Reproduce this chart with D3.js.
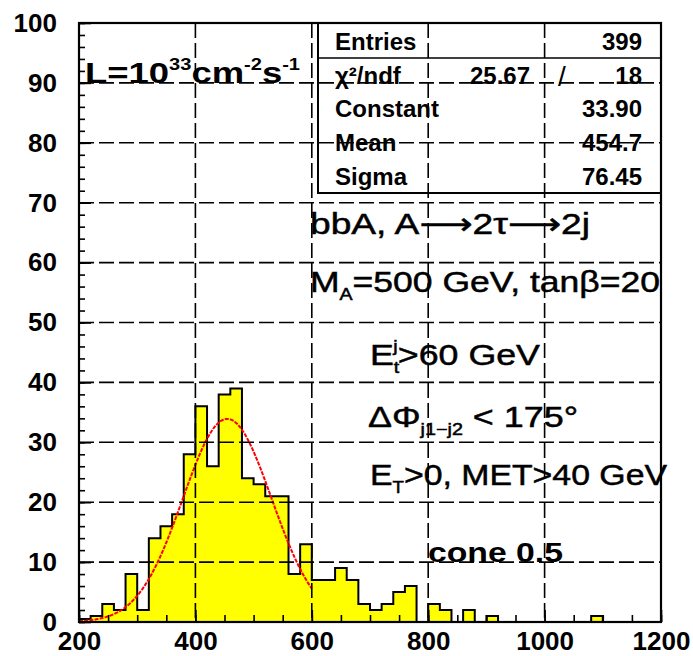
<!DOCTYPE html>
<html>
<head>
<meta charset="utf-8">
<title>bbA, A to 2tau to 2j - mass histogram</title>
<script src="https://cdnjs.cloudflare.com/ajax/libs/d3/7.8.5/d3.min.js"></script>
<style>
  html, body { margin: 0; background: #fff; }
  svg text { font-family: 'Liberation Sans', Arial, Helvetica, sans-serif; fill: #000; }
  .arrow { font-family: 'DejaVu Sans', sans-serif; }
</style>
</head>
<body>
<svg id="chart" width="693" height="656"></svg>
<script>
// histogram: 20 GeV bins from 200 to 1200
var binLow = 200, binWidth = 20;
var counts = [0.5, 1, 3, 2, 8, 2, 14, 16, 18, 28,
              36, 26, 38, 39, 24, 23, 21, 21, 8, 13,
              7, 7, 9, 7, 3, 2, 3, 5, 6, 0,
              3, 2, 0, 2, 0, 1, 0, 0, 0, 0,
              0, 0, 0, 0, 1, 0, 0, 0, 0, 0];

// gaussian fit, as given in the stats box (range 200 - 600)
var fitParams = {constant: 33.90, mean: 454.7, sigma: 76.45};
var fitRange = [200, 600];

var xTicks = [200, 400, 600, 800, 1000, 1200];
var yTicks = [0, 10, 20, 30, 40, 50, 60, 70, 80, 90, 100];
var xGrid = [400, 600, 800, 1000];
var yGrid = [10, 20, 30, 40, 50, 60, 70, 80, 90];

var statsRows = [["Entries", "", "399"],
                 ["\u03C7\u00B2/ndf", "25.67", "/", "18"],
                 ["Constant", "", "33.90"],
                 ["Mean", "", "454.7"],
                 ["Sigma", "", "76.45"]];

var FRAME = {left: 79, right: 661, top: 23, bottom: 622};

var svg = d3.select("#chart");
var x = d3.scaleLinear().domain([200, 1200]).range([FRAME.left, FRAME.right]);
var y = d3.scaleLinear().domain([0, 100]).range([FRAME.bottom, FRAME.top]);

svg.append("rect").attr("width", 693).attr("height", 656).attr("fill", "#fff");

// histogram outline
var pts = [[binLow, 0]];
counts.forEach(function (c, i) {
  var lo = binLow + i * binWidth;
  pts.push([lo, c]);
  pts.push([lo + binWidth, c]);
});
pts.push([binLow + counts.length * binWidth, 0]);

svg.append("path")
  .attr("d", d3.line().x(function (d) { return x(d[0]); }).y(function (d) { return y(d[1]); })(pts))
  .attr("fill", "#ffff00")
  .attr("stroke", "#000")
  .attr("stroke-width", 2)
  .attr("stroke-linejoin", "miter");

// fit curve
var fx = d3.range(fitRange[0], fitRange[1] + 0.1, 2);
var gauss = function (v) {
  var t = (v - fitParams.mean) / fitParams.sigma;
  return fitParams.constant * Math.exp(-0.5 * t * t);
};
svg.append("path")
  .attr("d", d3.line().x(function (d) { return x(d); }).y(function (d) { return y(gauss(d)); })(fx))
  .attr("fill", "none")
  .attr("stroke", "#ff0000")
  .attr("stroke-width", 2)
  .attr("stroke-dasharray", "4,1.2");

// dashed grid
var grid = svg.append("g").attr("stroke", "#000").attr("stroke-width", 1.6).attr("stroke-dasharray", "15,5");
grid.selectAll("line.gx").data(xGrid).enter().append("line")
  .attr("x1", function (d) { return x(d); }).attr("x2", function (d) { return x(d); })
  .attr("y1", FRAME.top).attr("y2", FRAME.bottom);
grid.selectAll("line.gy").data(yGrid).enter().append("line")
  .attr("y1", function (d) { return y(d); }).attr("y2", function (d) { return y(d); })
  .attr("x1", FRAME.left).attr("x2", FRAME.right);

// axes, ticks pointing inward
function styleAxis(g) {
  g.select(".domain").remove();
  g.selectAll(".tick line").attr("stroke", "#000").attr("stroke-width", 1.6);
  g.selectAll("text").attr("font-size", 26).attr("font-weight", "bold");
}
svg.append("g").attr("transform", "translate(" + FRAME.left + ",0)")
  .call(d3.axisLeft(y).tickValues(d3.range(0, 101, 2)).tickSize(-6).tickFormat(""))
  .call(styleAxis);
svg.append("g").attr("transform", "translate(" + FRAME.left + ",0)")
  .call(d3.axisLeft(y).tickValues(yTicks).tickSize(-12).tickPadding(22).tickFormat(d3.format("d")))
  .call(styleAxis);
svg.append("g").attr("transform", "translate(0," + FRAME.bottom + ")")
  .call(d3.axisBottom(x).tickValues(d3.range(200, 1201, 50)).tickSize(-7).tickFormat(""))
  .call(styleAxis);
svg.append("g").attr("transform", "translate(0," + FRAME.bottom + ")")
  .call(d3.axisBottom(x).tickValues(xTicks).tickSize(-12).tickPadding(10).tickFormat(d3.format("d")))
  .call(styleAxis);

svg.append("rect")
  .attr("x", FRAME.left).attr("y", FRAME.top)
  .attr("width", FRAME.right - FRAME.left).attr("height", FRAME.bottom - FRAME.top)
  .attr("fill", "none").attr("stroke", "#000").attr("stroke-width", 2.2);

// stats box
var box = svg.append("g");
box.append("rect").attr("x", 318).attr("y", FRAME.top).attr("width", FRAME.right - 318).attr("height", 170)
  .attr("fill", "none").attr("stroke", "#000").attr("stroke-width", 2);
box.append("line").attr("x1", 318).attr("x2", FRAME.right).attr("y1", 58).attr("y2", 58)
  .attr("stroke", "#000").attr("stroke-width", 1.6);
var rowY = [50, 84, 117, 151, 185];
statsRows.forEach(function (r, i) {
  var st = box.append("g").attr("font-size", 24).attr("font-weight", "bold");
  st.append("text").attr("x", 335).attr("y", rowY[i]).text(r[0]);
  if (r.length === 4) {
    st.append("text").attr("x", 530).attr("y", rowY[i]).attr("text-anchor", "end").text(r[1]);
    st.append("text").attr("x", 558).attr("y", rowY[i] + 2).attr("font-size", 28).attr("font-weight", "normal").text(r[2]);
    st.append("text").attr("x", 642).attr("y", rowY[i]).attr("text-anchor", "end").text(r[3]);
  } else {
    st.append("text").attr("x", 642).attr("y", rowY[i]).attr("text-anchor", "end").text(r[2]);
  }
});

// text with sub/superscripts: parts = [text, shift, dx, class] shift: 0 normal, 1 sup, -1 sub
function label(xp, yp, parts, size, width, weight) {
  var t = svg.append("text").attr("x", xp).attr("y", yp)
    .attr("font-size", size).attr("font-weight", weight || "normal")
    .attr("stroke", "#000").attr("stroke-width", weight ? 0 : 0.5)
    .attr("textLength", width).attr("lengthAdjust", "spacingAndGlyphs");
  var cur = 0;
  parts.forEach(function (p) {
    var off = p[1] === 1 ? -0.45 * size : (p[1] === -1 ? 0.25 * size : 0);
    var ts = t.append("tspan").attr("dy", off - cur)
      .attr("font-size", p[1] === 0 ? size : size * 0.55)
      .text(p[0]);
    if (p[2]) ts.attr("dx", p[2]);
    if (p[3]) ts.attr("class", p[3]);
    cur = off;
  });
  return t;
}

label(85, 83, [["L=10", 0], ["33", 1], ["cm", 0], ["-2", 1], ["s", 0], ["-1", 1]], 30, 215, "bold");
label(310, 234, [["bbA, A", 0], ["\u27F6", 0, 0, "arrow"], ["2\u03C4", 0], ["\u27F6", 0, 0, "arrow"], ["2j", 0]], 30, 280);
label(310, 292, [["M", 0], ["A", -1], ["=500 GeV, tan\u03B2=20", 0]], 30, 350);
label(370, 365, [["E", 0], ["t", -1], ["j", 1, -5], [">60 GeV", 0]], 30, 170);
label(368, 427, [["\u0394\u03A6", 0], ["j1\u2212j2", -1], [" < 175\u00B0", 0]], 30, 210);
label(370, 485, [["E", 0], ["T", -1], [">0, MET>40 GeV", 0]], 30, 297);
label(428, 562, [["cone 0.5", 0]], 28, 135, "bold");
</script>
</body>
</html>
